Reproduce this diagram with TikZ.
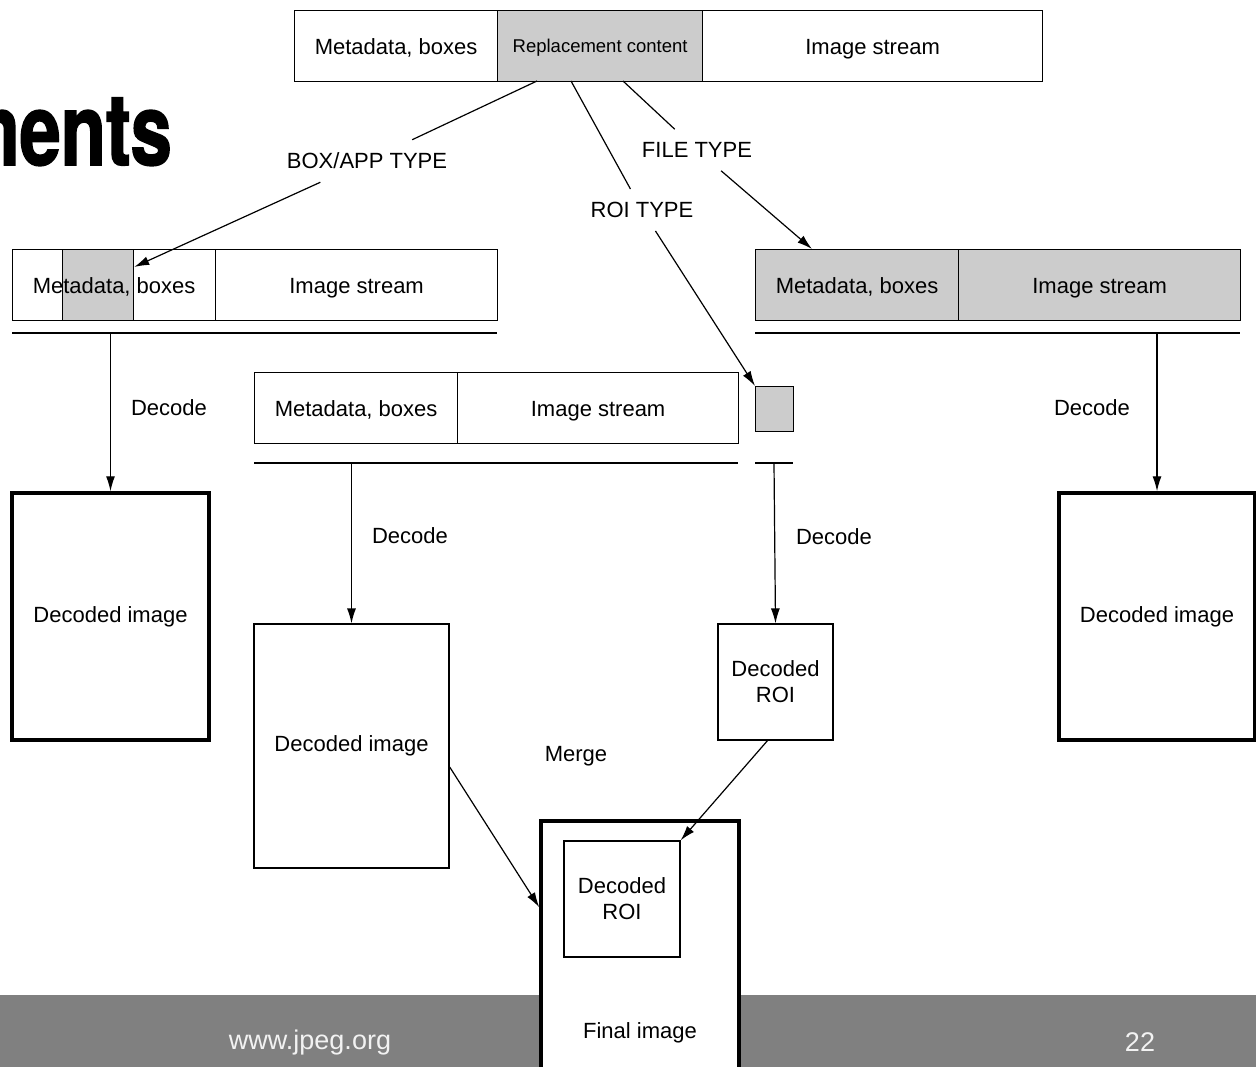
\documentclass[tikz,border=0pt]{standalone}
\usepackage{fontspec}
\setmainfont{Liberation Sans}
\newfontfamily\titlefont[FakeStretch=0.74,FakeBold=1.5]{TeX Gyre Heros}
\usetikzlibrary{arrows.meta}
\definecolor{boxgray}{HTML}{CCCCCC}
\definecolor{footgray}{HTML}{808080}
\definecolor{foottext}{HTML}{F2F2F2}
\begin{document}
\begin{tikzpicture}[x=1pt,y=-1pt,
  txt/.style={font=\fontsize{22}{26}\selectfont},
  cell/.style={draw, line width=1.2pt, minimum height=71pt, inner sep=0pt, anchor=north west, txt, text height=16pt, text depth=0pt},
  thick box/.style={draw, line width=3.5pt, inner sep=0pt, fill=white, txt, align=center},
  thin box/.style={draw, line width=1.2pt, inner sep=0pt, fill=white, txt, align=center},
  arr/.style={line width=1.2pt, -{Latex[length=15pt,width=9pt]}},
  conn/.style={line width=1.2pt},
  lbl/.style={txt, inner xsep=2pt, inner ysep=13pt},
  rule/.style={line width=1.2pt}]
\useasboundingbox (0,0) rectangle (1256,1067);
\clip (0,0) rectangle (1256,1067);

% title fragment
\node[anchor=base east, inner sep=0pt, font=\titlefont\bfseries\fontsize{100}{100}\selectfont] (title) at (172,165) {ments};

% top bar
\node[cell, minimum width=203pt] (t1) at (294,10) {Metadata, boxes};
\node[cell, minimum width=205pt, fill=boxgray, font=\fontsize{18.5}{22}\selectfont, text height=13.5pt] (t2) at (497,10) {Replacement content};
\node[cell, minimum width=340pt] (t3) at (702,10) {Image stream};

% left file
\node[cell, minimum width=203pt] (l1) at (12,249) {};
\node[cell, minimum width=71pt, fill=boxgray] (gL) at (62,249) {};
\node[txt, text height=16pt, text depth=0pt, inner sep=0pt] (l1t) at (l1.center) {Metadata, boxes};
\node[cell, minimum width=282pt] (l2) at (215,249) {Image stream};
\draw[rule] (12,333) -- (497,333);

% middle file
\node[cell, minimum width=203pt] (m1) at (254,372) {Metadata, boxes};
\node[cell, minimum width=281pt] (m2) at (457,372) {Image stream};
\draw[rule] (254,463) -- (738,463);

% ROI piece
\node[draw, line width=1.2pt, fill=boxgray, minimum width=38pt, minimum height=45pt, inner sep=0pt, anchor=north west] (roi) at (755,386) {};
\draw[rule] (755,463) -- (793,463);

% right file
\node[cell, minimum width=203pt, fill=boxgray] (r1) at (755,249) {Metadata, boxes};
\node[cell, minimum width=282pt, fill=boxgray] (r2) at (958,249) {Image stream};
\draw[rule] (755,333) -- (1240,333);

% decoded boxes
\node[thick box, minimum width=197pt, minimum height=247pt] (dL) at (110.5,616.5) {Decoded image};
\node[thin box, minimum width=195pt, minimum height=244pt] (dM) at (351.5,746) {Decoded image};
\node[thin box, minimum width=115pt, minimum height=116pt] (dR) at (775.5,682) {Decoded\\ROI};
\node[thick box, minimum width=196pt, minimum height=247pt] (dRt) at (1157,616.5) {Decoded image};

% footer
\fill[footgray] (0,995) rectangle (1256,1067);
\node[font=\fontsize{27}{30}\selectfont, text=foottext] (url) at (310,1043) {www.jpeg.org};
\node[font=\fontsize{27}{30}\selectfont, text=foottext] (pg) at (1140,1042) {22};

% final image
\node[thick box, minimum width=198pt, minimum height=254pt] (fF) at (640,948) {};
\node[thin box, minimum width=116pt, minimum height=116pt] (fI) at (622,899) {Decoded\\ROI};
\node[txt] (fFt) at (640,1033) {Final image};

% decode arrows
\coordinate (cL) at (110.5,333);
\coordinate (cM) at (351.5,463);
\coordinate (cR) at (774,463);
\coordinate (cRt) at (1157,333);
\draw[arr] (cL) -- (dL.north);
\draw[arr] (cM) -- (dM.north);
\draw[arr] (cR) -- (dR.north);
\draw[arr] (cRt) -- (dRt.north);
\node[txt] (decL) at (169,408) {Decode};
\node[txt] (decM) at (410,536) {Decode};
\node[txt] (decR) at (834,537) {Decode};
\node[txt] (decRt) at (1092,408) {Decode};

% merge
\node[txt] (merge) at (576,756) {Merge};
\draw[arr] (dM.-12) -- (fF.158);
\draw[arr] ([xshift=-8pt]dR.south) -- (fI.north east);

% type connectors
\coordinate (a1) at (537,81);
\coordinate (a2) at (571,81);
\coordinate (a3) at (623,81);
\node[lbl] (lbBox) at (367,161) {BOX/APP TYPE};
\node[lbl] (lbRoi) at (642,210) {ROI TYPE};
\node[lbl] (lbFile) at (697,150) {FILE TYPE};
\draw[conn] (a1) -- (lbBox);
\draw[arr] (lbBox) -- ([yshift=-18pt]gL.north east);
\draw[conn] (a2) -- (lbRoi);
\draw[arr] (lbRoi) -- (roi.north west);
\draw[conn] (a3) -- (lbFile);
\draw[arr] (lbFile) -- ([xshift=57pt]r1.north west);
\end{tikzpicture}
\end{document}
